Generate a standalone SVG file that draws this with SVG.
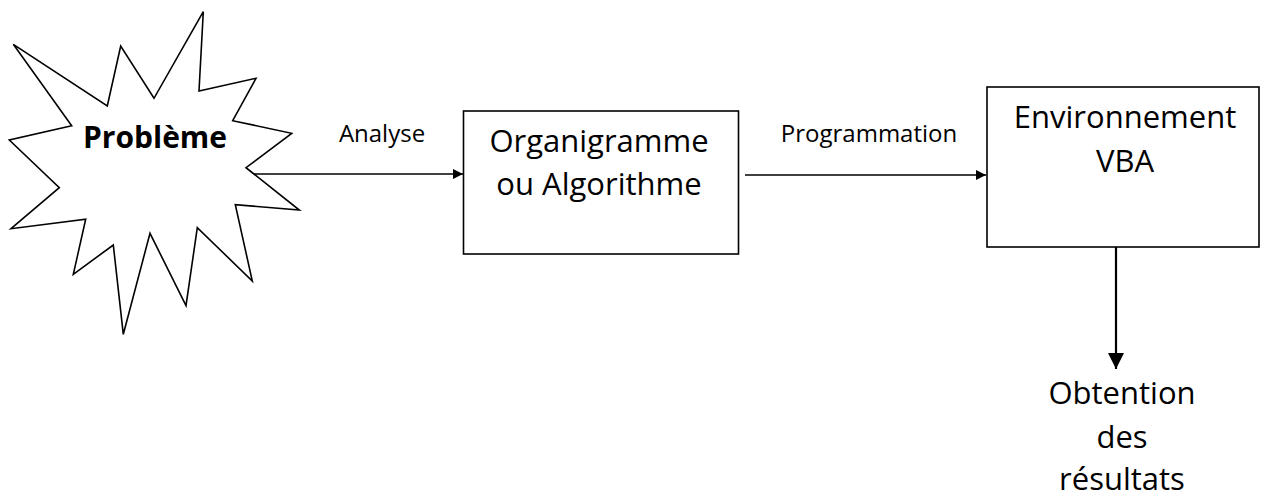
<svg xmlns="http://www.w3.org/2000/svg" width="1268" height="497" viewBox="0 0 1268 497">
  <style>
    .shape { fill: #ffffff; stroke: #000000; stroke-width: 1.6; }
    .big { font-family: "Open Sans", "Liberation Sans", sans-serif; font-size: 31px; fill: #000000; text-anchor: middle; }
    .label { font-family: "Open Sans", "Liberation Sans", sans-serif; font-size: 24px; fill: #000000; text-anchor: middle; }
    .bold { font-family: "Open Sans", "Liberation Sans", sans-serif; font-size: 30px; font-weight: bold; fill: #000000; text-anchor: middle; }
    .wire { fill: none; stroke: #000000; stroke-width: 1.4; }
    .wire-thick { fill: none; stroke: #000000; stroke-width: 2.2; }
  </style>
  <defs>
    <marker id="arrow" viewBox="0 0 10 10" refX="10" refY="5" markerWidth="10" markerHeight="10" markerUnits="userSpaceOnUse" orient="auto">
      <path d="M0,0 L10,5 L0,10 Z" fill="#000000"/>
    </marker>
    <marker id="arrow-big" viewBox="0 0 10 10" refX="10" refY="5" markerWidth="16" markerHeight="16" markerUnits="userSpaceOnUse" orient="auto">
      <path d="M0,0 L10,5 L0,10 Z" fill="#000000"/>
    </marker>
  </defs>

  <!-- connectors -->
  <g id="connectors">
    <line class="wire" x1="250" y1="174" x2="463" y2="174" marker-end="url(#arrow)"/>
    <line class="wire" x1="745" y1="175" x2="986" y2="175" marker-end="url(#arrow)"/>
    <line class="wire-thick" x1="1116" y1="247" x2="1116" y2="369" marker-end="url(#arrow-big)"/>
    <text class="label" x="382" y="142">Analyse</text>
    <text class="label" x="869" y="142">Programmation</text>
  </g>

  <!-- burst shape -->
  <g id="probleme">
    <polygon class="shape" points="13.3,44.3 107.3,106 120.7,46 154,98.3 203.3,11.7 199,91 256,78.3 232.7,120.7 291.7,133.3 246,167.7 299.3,210 235.3,204.7 252.3,281 197.3,227.7 186,305.7 150,233.3 123.3,334.3 113.3,245 73.3,274.3 85.7,219.3 11,228.7 59.3,187.7 9.3,140 71.7,125.7"/>
    <text class="bold" x="155" y="148">Problème</text>
  </g>

  <g id="organigramme">
    <rect class="shape" x="463.5" y="111" width="275" height="143"/>
    <text class="big" x="599" y="152">Organigramme</text>
    <text class="big" x="599" y="195">ou Algorithme</text>
  </g>

  <g id="environnement">
    <rect class="shape" x="987" y="87" width="272" height="160"/>
    <text class="big" x="1125" y="128">Environnement</text>
    <text class="big" x="1125" y="172">VBA</text>
  </g>

  <g id="resultats">
    <text class="big" x="1122" y="404">Obtention</text>
    <text class="big" x="1122" y="448">des</text>
    <text class="big" x="1122" y="490">résultats</text>
  </g>
</svg>
